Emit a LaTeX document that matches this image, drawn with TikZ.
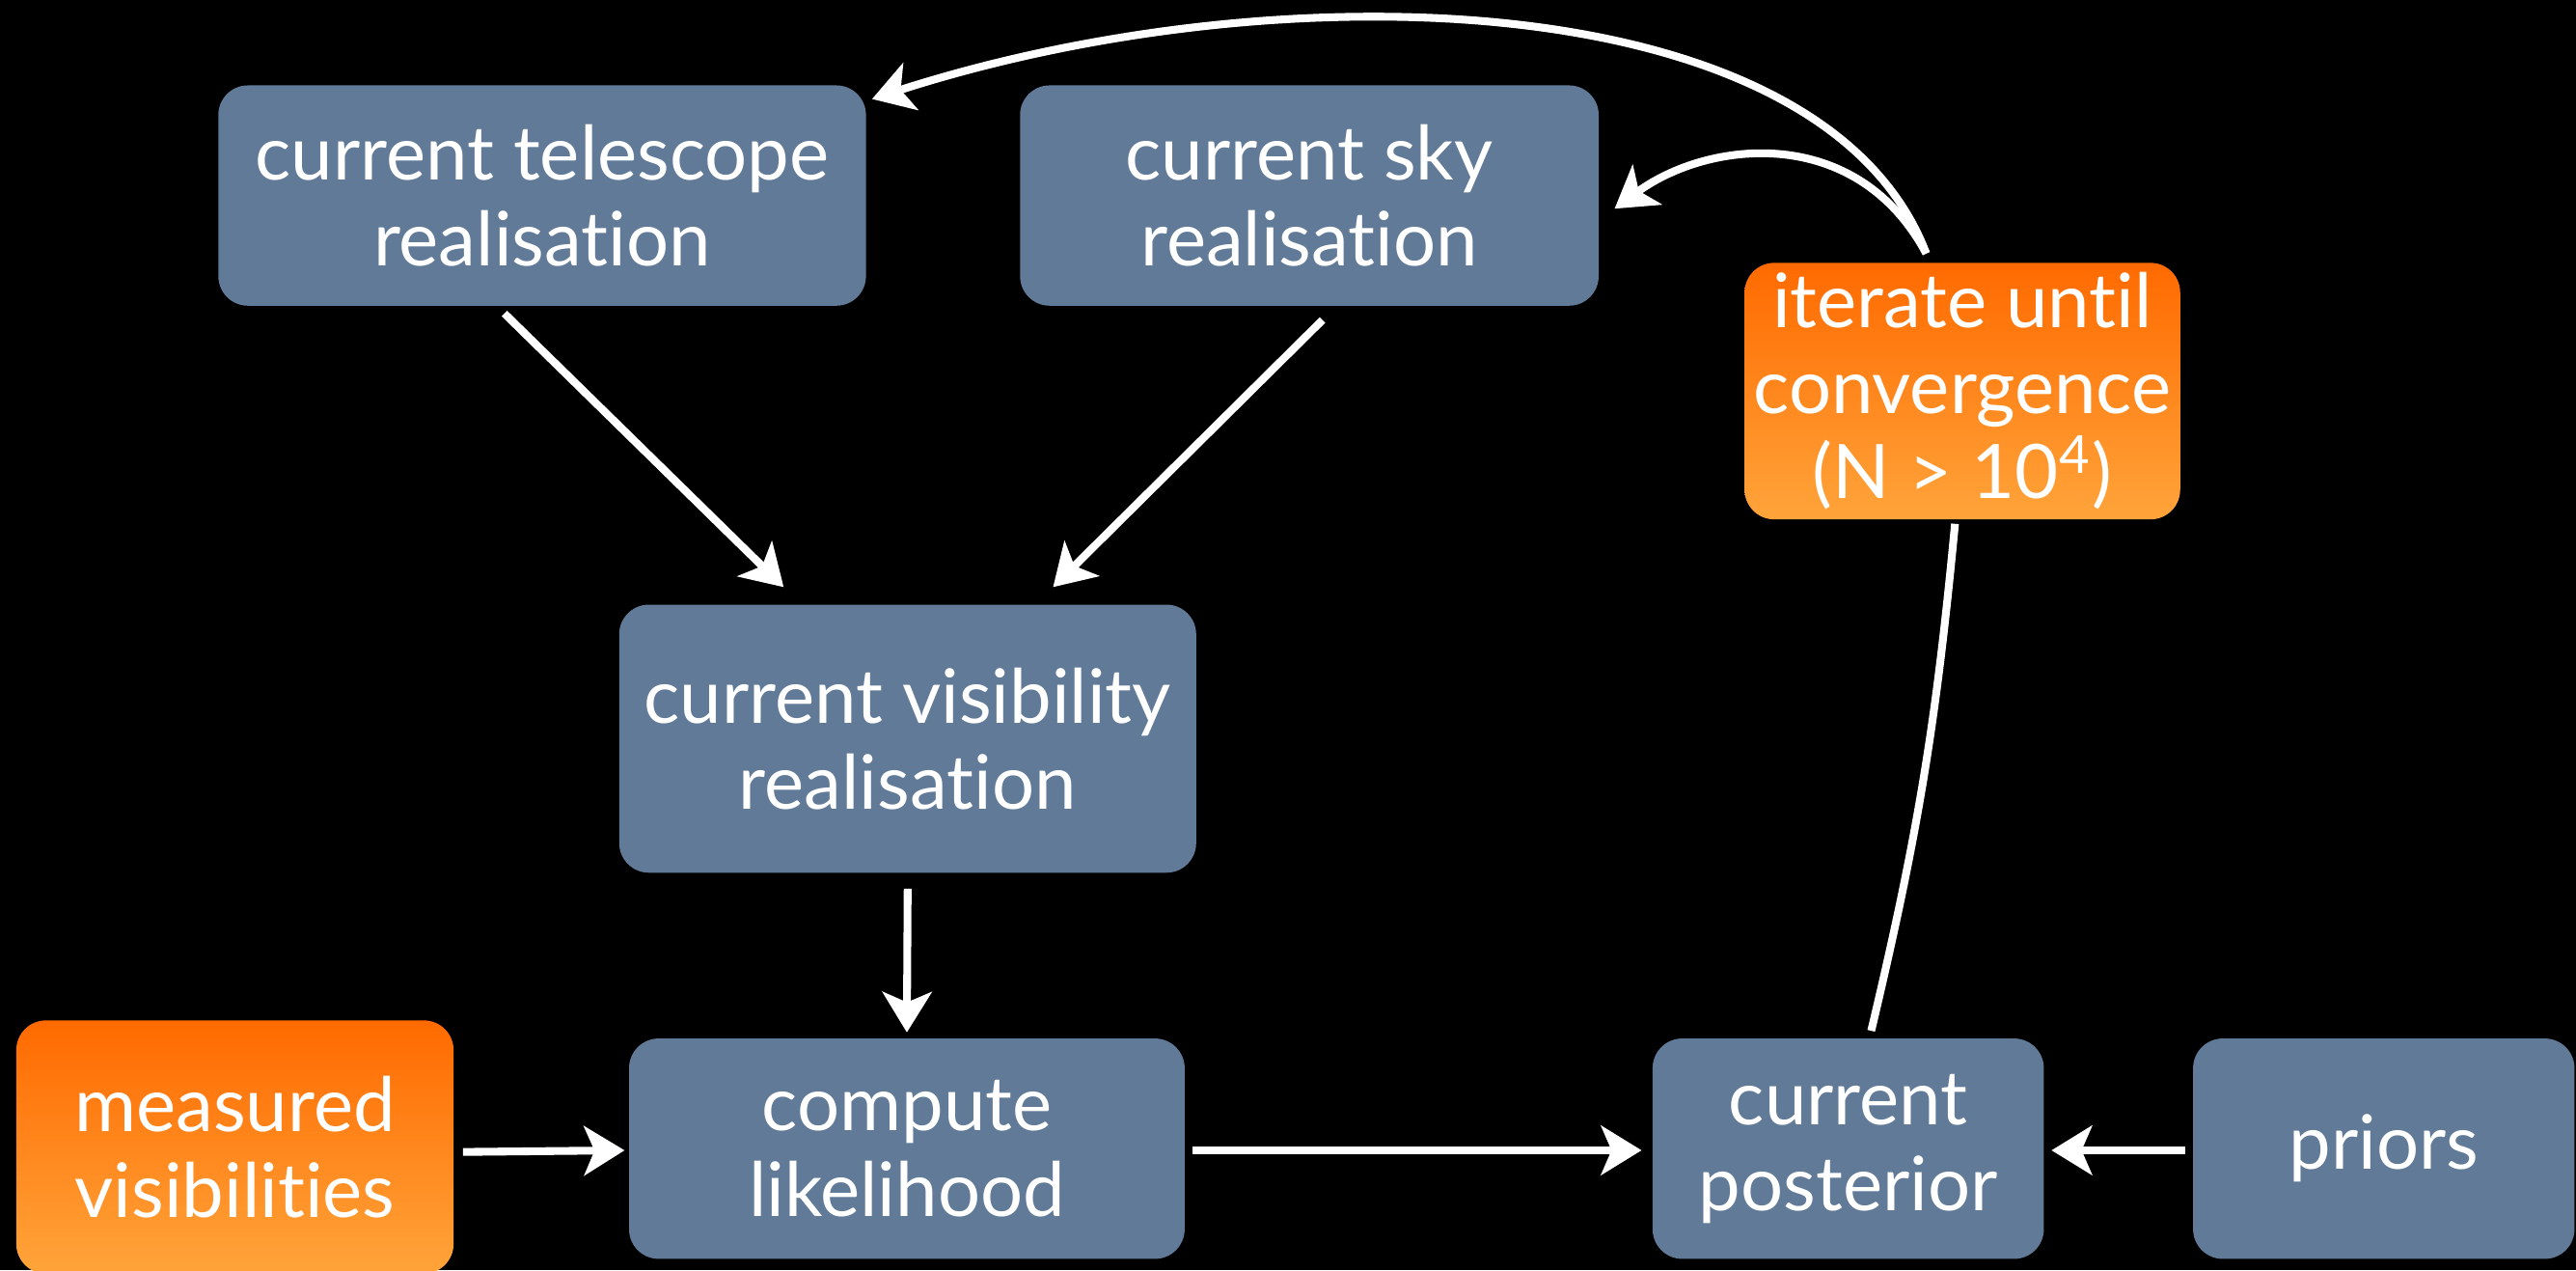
\documentclass[tikz,border=0pt]{standalone}
\usepackage{fontspec}
\setmainfont[Ligatures=NoCommon]{Lato}
\usetikzlibrary{arrows.meta,calc}
\definecolor{slate}{RGB}{96,122,152}
\definecolor{orangetop}{RGB}{255,106,0}
\definecolor{orangebot}{RGB}{255,164,58}
\tikzset{
  box/.style={rectangle, rounded corners=0.18cm, align=center, text=white,
    inner sep=0pt, font=\fontsize{13}{14.8}\selectfont},
  bluebox/.style={box, fill=slate},
  orangebox/.style={box, top color=orangetop, bottom color=orangebot},
  arr/.style={draw=white, line width=1.35pt,
    -{Stealth[length=7pt,width=8.5pt,inset=1.8pt]}},
  link/.style={draw=white, line width=1.35pt}
}
\begin{document}
\begin{tikzpicture}[x=0.01cm,y=-0.01cm]
  % background
  \fill[black] (0,0) rectangle (1568,773);
  \useasboundingbox (0,0) rectangle (1568,773);

  % process boxes
  \node[bluebox, minimum width=3.94cm, minimum height=1.34cm] (tel) at (330,119)
    {current telescope\\realisation};
  \node[bluebox, minimum width=3.52cm, minimum height=1.34cm] (sky) at (797,119)
    {current sky\\realisation};
  \node[orangebox, minimum width=2.65cm, minimum height=1.56cm] (iter) at (1194.5,238)
    {iterate until\\convergence\\(N > 10\textsuperscript{4})};
  \node[bluebox, minimum width=3.51cm, minimum height=1.63cm] (vis) at (552.5,449.5)
    {current visibility\\realisation};
  \node[orangebox, minimum width=2.66cm, minimum height=1.54cm] (meas) at (143,698)
    {measured\\visibilities};
  \node[bluebox, minimum width=3.38cm, minimum height=1.34cm] (comp) at (552,699)
    {compute\\likelihood};
  \node[bluebox, minimum width=2.38cm, minimum height=1.34cm] (post) at (1125,699)
    {current\\posterior};
  \node[bluebox, minimum width=2.32cm, minimum height=1.34cm] (prior) at (1451,699)
    {priors};

  % straight connectors
  \draw[arr] ($(tel.south)+(-23,4)$) -- ($(vis.north)+(-75.5,-10)$);
  \draw[arr] ($(sky.south)+(8,8)$) -- ($(vis.north)+(88.5,-10)$);
  \draw[arr] ($(vis.south)+(0,9)$) -- ($(comp.north)+(0,-3)$);
  \draw[arr] ($(meas.east)+(5,3)$) -- ($(comp.west)+(-2,1)$);
  \draw[arr] ($(comp.east)+(4,1)$) -- ($(post.west)+(-6,1)$);
  \draw[arr] ($(prior.west)+(-4,1)$) -- ($(post.east)+(4,1)$);

  % feedback loop
  \draw[link] ($(post.north)+(14,-4)$) to[bend right=4] ($(iter.south)+(-4.5,2)$);
  \coordinate (loop) at ($(iter.north)+(-22,-5)$);
  \draw[arr] (loop) .. controls (1110,-10) and (780,-20) .. ($(tel.north east)+(3,9)$);
  \draw[arr] (loop) .. controls (1130,75) and (1040,85) .. ($(sky.east)+(9,8)$);
\end{tikzpicture}
\end{document}
